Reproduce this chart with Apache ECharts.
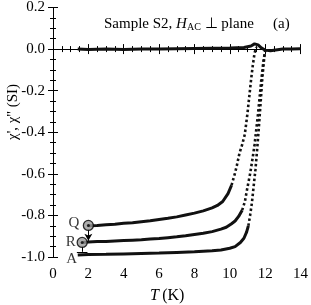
<!DOCTYPE html>
<html><head><meta charset="utf-8">
<script src="https://cdn.jsdelivr.net/npm/echarts@6/dist/echarts.min.js"></script>
<style>html,body{margin:0;padding:0;background:#fff}#c{width:311px;height:305px}</style>
</head><body><div id="c"></div>
<script>
// χ'' (near zero)
const chi2T = [1.4,2,3,4,5,6,7,8,9,10,10.8,11.2,11.4,11.6,11.8,12.0,12.3,12.6,13,13.5,14];
const chi2V = [0.0,-0.002,0.0,-0.002,0.0,0.0,0.002,0.003,0.004,0.005,0.008,0.015,0.025,0.02,0.005,-0.005,-0.008,-0.004,0.0,0.0,0.002];
// curve Q
const qT = [2.0,2.5,3,3.5,4,4.5,5,5.5,6,6.5,7,7.5,8,8.5,9,9.3,9.6,9.9,10.1,10.3,10.4,10.55,10.7,10.85,11.0,11.1,11.2,11.3,11.4,11.5];
const qV = [-0.850,-0.848,-0.845,-0.842,-0.838,-0.835,-0.830,-0.826,-0.820,-0.814,-0.807,-0.798,-0.789,-0.778,-0.764,-0.752,-0.733,-0.695,-0.655,-0.595,-0.56,-0.50,-0.46,-0.41,-0.31,-0.23,-0.15,-0.08,-0.02,0.01];
// curve R
const rT = [1.7,2,2.5,3,3.5,4,4.5,5,5.5,6,6.5,7,7.5,8,8.5,9,9.5,9.8,10.1,10.3,10.5,10.7,10.85,11.0,11.15,11.3,11.4,11.6,11.78,11.9,12.0,12.05];
const rV = [-0.930,-0.928,-0.926,-0.925,-0.923,-0.921,-0.919,-0.917,-0.914,-0.911,-0.907,-0.903,-0.898,-0.892,-0.886,-0.878,-0.866,-0.857,-0.840,-0.827,-0.805,-0.775,-0.735,-0.665,-0.60,-0.52,-0.46,-0.31,-0.15,-0.06,-0.01,0.0];
// curve A
const aT = [1.4,2,3,4,5,6,7,8,9,9.5,10,10.3,10.6,10.8,10.95,11.05,11.15,11.25,11.35,11.45,11.55,11.65,11.75,11.85,11.95,12.0];
const aV = [-0.990,-0.988,-0.987,-0.985,-0.983,-0.981,-0.978,-0.975,-0.970,-0.966,-0.958,-0.950,-0.930,-0.910,-0.880,-0.850,-0.800,-0.740,-0.660,-0.580,-0.480,-0.370,-0.250,-0.130,-0.040,-0.01];
// split indices where the steep (dotted-looking) part begins
const qSteep = 18, rSteep = 21, aSteep = 15;
// annotation points
const qMark = [2.0,-0.848], rMark = [1.65,-0.930];
const labels = [{t:'Q',p:[1.18,-0.838]},{t:'R',p:[1.0,-0.927]},{t:'A',p:[1.06,-1.008]}];
const xTicks = {min:0,max:14,interval:2};
const yTicks = {min:-1.0,max:0.2,interval:0.2};

const zip = (a,b)=>a.map((x,i)=>[x,b[i]]);
const FONT = 'Liberation Serif';
const ink = '#111';

function lineSeries(data, dotted){
  return {type:'line', data, showSymbol:false, clip:false, silent:true,
    lineStyle: dotted ? {color:ink,width:2.6,type:[2.5,2.5]} : {color:ink,width:3}};
}
const qD = zip(qT,qV), rD = zip(rT,rV), aD = zip(aT,aV);
const series = [
  lineSeries(zip(chi2T,chi2V), false),
  lineSeries(qD.slice(0,qSteep+1), false), lineSeries(qD.slice(qSteep), true),
  lineSeries(rD.slice(0,rSteep+1), false), lineSeries(rD.slice(rSteep), true),
  lineSeries(aD.slice(0,aSteep+1), false), lineSeries(aD.slice(aSteep), true),
  {type:'scatter', data:[qMark, rMark], symbol:'circle', symbolSize:10, clip:false, silent:true,
   itemStyle:{color:'#9a9a9a',borderColor:'#000',borderWidth:1.3}, z:5,
   markLine:{silent:true, symbol:'none', label:{show:false}, lineStyle:{color:'#000',width:1,type:'solid'},
     data:[
       [{coord:[qMark[0],qMark[1]-0.02],symbol:'none'},{coord:[qMark[0],rMark[1]+0.008],symbol:'arrow',symbolSize:[6,7]}],
       [{coord:[rMark[0],rMark[1]-0.02]},{coord:[rMark[0],rMark[1]-0.045]}],
       [{coord:[rMark[0]-0.3,rMark[1]-0.045]},{coord:[rMark[0]+0.3,rMark[1]-0.045]}]
     ]}},
  {type:'scatter', data:[qMark, rMark], symbolSize:3, clip:false, silent:true, itemStyle:{color:'#000'}, z:6},
  {type:'scatter', data:labels.map(l=>({value:l.p, name:l.t})), symbolSize:0, clip:false, silent:true,
   label:{show:true, position:'inside', formatter:p=>p.name, fontFamily:FONT, fontSize:15, color:'#000'}}
];

const axisCommon = {
  axisLine:{show:true,lineStyle:{color:'#000',width:1}},
  axisTick:{show:true,inside:true,length:5,lineStyle:{color:'#000'}},
  minorTick:{show:true,splitNumber:4,length:3,lineStyle:{color:'#000'}},
  splitLine:{show:false}
};
const chart = echarts.init(document.getElementById('c'), null, {renderer:'canvas'});
chart.setOption({
  animation:false,
  grid:{left:53, top:7, right:8, bottom:48, containLabel:false},
  xAxis:[
    Object.assign({type:'value', position:'bottom', min:xTicks.min, max:xTicks.max, interval:xTicks.interval,
      axisLabel:{fontFamily:FONT,fontSize:15,color:'#000',margin:10}}, axisCommon),
    Object.assign({type:'value', position:'top', min:xTicks.min, max:xTicks.max, interval:xTicks.interval,
      axisLabel:{show:false}}, axisCommon)
  ],
  yAxis:[
    Object.assign({type:'value', position:'left', min:yTicks.min, max:yTicks.max, interval:yTicks.interval,
      axisLabel:{fontFamily:FONT,fontSize:15,color:'#000',margin:8,formatter:v=>v.toFixed(1)}}, axisCommon),
    Object.assign({type:'value', position:'right', min:yTicks.min, max:yTicks.max, interval:yTicks.interval,
      axisLabel:{show:false}}, axisCommon)
  ],
  series,
  graphic:[
    {type:'text', left:104, top:17, style:{
      text:'{n|Sample S2, }{i|H}{s|AC}{n| \u22A5 plane}',
      rich:{n:{fontFamily:FONT,fontSize:15,fill:'#000'},
            i:{fontFamily:FONT,fontSize:15,fontStyle:'italic',fill:'#000'},
            s:{fontFamily:FONT,fontSize:10,fill:'#000',verticalAlign:'bottom',padding:[6,0,0,0]}}}},
    {type:'text', left:273, top:17, style:{text:'(a)', fontFamily:FONT, fontSize:15, fill:'#000'}},
    {type:'text', left:150, top:288, style:{
      text:'{i|T} {n|(K)}', rich:{i:{fontFamily:FONT,fontSize:16,fontStyle:'italic',fill:'#000'},n:{fontFamily:FONT,fontSize:16,fill:'#000'}}}},
    {type:'text', x:6, y:140, rotation:Math.PI/2, style:{
      text:"\u03C7', \u03C7'' (SI)", fontFamily:FONT, fontSize:15, fill:'#000'}}
  ]
});
</script></body></html>
